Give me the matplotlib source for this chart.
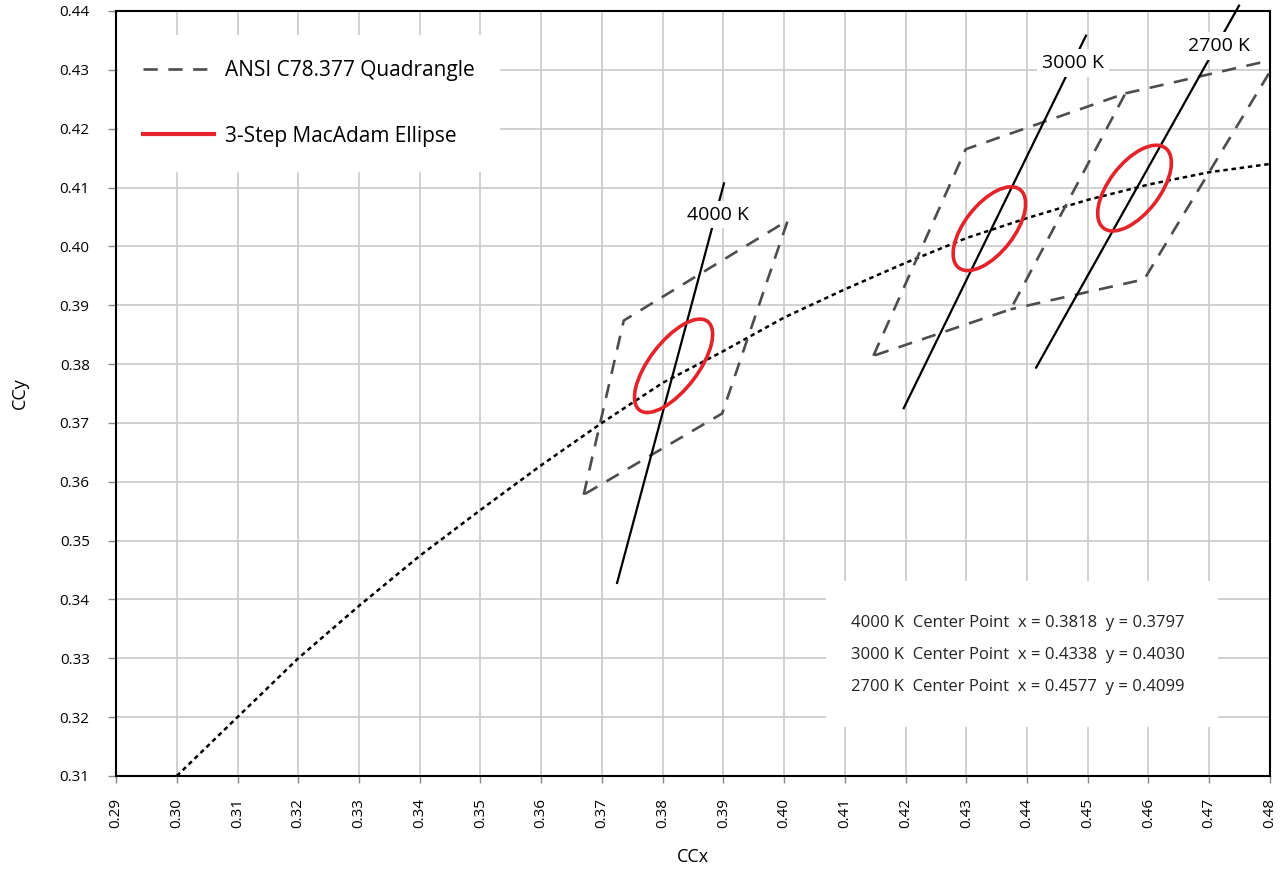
import numpy as np
import matplotlib
matplotlib.use("Agg")
import matplotlib.pyplot as plt
from matplotlib.patches import Ellipse, Rectangle
from matplotlib.ticker import MultipleLocator, FormatStrFormatter

plt.rcParams['font.family'] = ['Open Sans', 'DejaVu Sans']

# Planckian locus
locus_x = [0.30, 0.31, 0.32, 0.33, 0.34, 0.35, 0.36, 0.37, 0.38, 0.39,
           0.40, 0.41, 0.42, 0.43, 0.44, 0.45, 0.46, 0.47, 0.48]
locus_y = [0.3100, 0.3200, 0.3300, 0.3389, 0.3474, 0.3552, 0.3628, 0.3700,
           0.3768, 0.3822, 0.3879, 0.3927, 0.3972, 0.4014, 0.4048, 0.4079,
           0.4105, 0.4126, 0.4140]

# ANSI C78.377 quadrangles
quad_4000_x = [0.3670, 0.3736, 0.4006, 0.3898, 0.3670]
quad_4000_y = [0.3578, 0.3874, 0.4044, 0.3716, 0.3578]
quad_3000_x = [0.4147, 0.4299, 0.4562, 0.4373, 0.4147]
quad_3000_y = [0.3814, 0.4165, 0.4260, 0.3893, 0.3814]
quad_2700_x = [0.4562, 0.4813, 0.4593, 0.4373]
quad_2700_y = [0.4260, 0.4319, 0.3944, 0.3893]

# isotherm lines
iso_4000_x = [0.3725, 0.3901]
iso_4000_y = [0.3428, 0.4107]
iso_3000_x = [0.4197, 0.4497]
iso_3000_y = [0.3725, 0.4358]
iso_2700_x = [0.4415, 0.4749]
iso_2700_y = [0.3794, 0.4409]

# 3-step MacAdam ellipses
cct_names = ['4000 K', '3000 K', '2700 K']
center_x = [0.3818, 0.4338, 0.4577]
center_y = [0.3797, 0.4030, 0.4099]
ell_a = [0.00939, 0.00834, 0.00850]
ell_b = [0.00402, 0.00408, 0.00420]
ell_angle = [53.72, 53.22, 53.70]

fig = plt.figure(figsize=(12.85, 8.77), dpi=100)
ax = fig.add_axes([0.0903, 0.1152, 0.8980, 0.8723])

ax.plot(locus_x, locus_y, color='black', lw=1.8, linestyle=(0, (1.8, 1.5)), zorder=3)

qstyle = dict(color='#4d4d4d', lw=1.9, linestyle=(0, (5.4, 4.0)), zorder=3)
ax.plot(quad_4000_x, quad_4000_y, **qstyle)
ax.plot(quad_3000_x, quad_3000_y, **qstyle)
ax.plot(quad_2700_x, quad_2700_y, **qstyle)

for xs, ys in [(iso_4000_x, iso_4000_y), (iso_3000_x, iso_3000_y), (iso_2700_x, iso_2700_y)]:
    ax.plot(xs, ys, color='black', lw=1.6, zorder=4, clip_on=False)

for i in range(3):
    e = Ellipse((center_x[i], center_y[i]), 2 * ell_a[i], 2 * ell_b[i], angle=ell_angle[i],
                fill=False, edgecolor='#e3242b', lw=2.6, zorder=5)
    ax.add_patch(e)

lbl_box = dict(boxstyle='square,pad=0.25', fc='white', ec='none')
ax.text(0.3891, 0.4054, '4000 K', fontsize=14, ha='center', va='center', bbox=lbl_box, zorder=6)
ax.text(0.4476, 0.4312, '3000 K', fontsize=14, ha='center', va='center', bbox=lbl_box, zorder=6)
ax.text(0.4716, 0.4341, '2700 K', fontsize=14, ha='center', va='center', bbox=lbl_box, zorder=6)

# legend
h1, = ax.plot([], [], **dict(qstyle, label='ANSI C78.377 Quadrangle'))
h2, = ax.plot([], [], color='#e3242b', lw=3.0, label='3-Step MacAdam Ellipse')
leg = ax.legend(handles=[h1, h2], loc='upper left', bbox_to_anchor=(0.0017, 0.9687),
                borderaxespad=0, fontsize=15, frameon=True, fancybox=False,
                handlelength=3.4, handletextpad=0.55, labelspacing=2.15,
                borderpad=1.2)
leg.get_frame().set_facecolor('white')
leg.get_frame().set_edgecolor('none')
leg.get_frame().set_alpha(1)
leg.set_zorder(7)

# info box
ax.add_patch(Rectangle((0.6153, 0.0640), 0.3397, 0.1906, transform=ax.transAxes,
                       fc='white', ec='none', zorder=6))
info_y = [0.1997, 0.1580, 0.1162]
for i in range(3):
    ax.text(0.6369, info_y[i],
            '%s  Center Point  x = %.4f  y = %.4f' % (cct_names[i], center_x[i], center_y[i]),
            transform=ax.transAxes, fontsize=12, ha='left', va='center', color='#222222', zorder=7)

ax.set_xlim(0.29, 0.48)
ax.set_ylim(0.31, 0.44)
ax.xaxis.set_major_locator(MultipleLocator(0.01))
ax.yaxis.set_major_locator(MultipleLocator(0.01))
ax.xaxis.set_major_formatter(FormatStrFormatter('%.2f'))
ax.yaxis.set_major_formatter(FormatStrFormatter('%.2f'))
ax.grid(True, color='#c8cacc', lw=1.2)
ax.set_axisbelow(True)
for lab in ax.get_xticklabels():
    lab.set_rotation(90)
ax.tick_params(axis='x', direction='out', length=5, width=1, color='#888888',
               pad=11, labelsize=11)
ax.tick_params(axis='y', direction='out', length=6, width=1, color='#888888',
               pad=13, labelsize=11)
for s in ax.spines.values():
    s.set_linewidth(1.5)
    s.set_color('black')

ax.set_xlabel('CCx', fontsize=13, labelpad=14)
ax.set_ylabel('CCy', fontsize=13, labelpad=22)

fig.savefig('out.png', dpi=100)
